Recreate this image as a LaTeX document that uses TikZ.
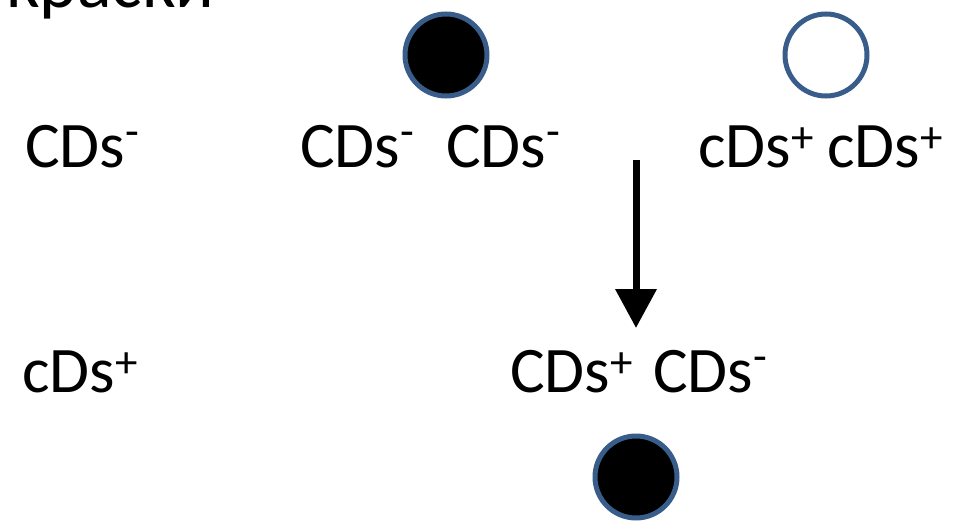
\documentclass[tikz,border=0pt]{standalone}
\usepackage{fontspec}
\setmainfont{Carlito}
\usetikzlibrary{arrows.meta}
\definecolor{ringblue}{RGB}{56,93,138}
\tikzset{
  lbl/.style={anchor=base west, inner sep=0pt, font=\fontsize{65}{78}\selectfont},
  dot/.style={circle, draw=ringblue, line width=5pt, minimum size=82pt, inner sep=0pt},
  full/.style={dot, fill=black},
  hollow/.style={dot, fill=white},
  flow/.style={line width=7pt, -{Triangle[length=39pt,width=40pt]}}
}
% charge marks set small and raised after the gene symbols
\newcommand{\chgneg}{\raisebox{21pt}{\fontsize{45}{45}\selectfont -}}
\newcommand{\chgpos}{\raisebox{15pt}{\fontsize{45}{45}\selectfont +}}
\begin{document}
\begin{tikzpicture}[x=1pt,y=-1pt]
  \useasboundingbox (0,0) rectangle (967,522);
  \begin{scope}
    \clip (0,0) rectangle (967,522);
    \node[lbl, font=\fontsize{72}{86}\selectfont] (title) at (6,7) {краски};
  \end{scope}
  % circles
  \node[full]   (c1) at (446,55) {};
  \node[hollow] (c2) at (826,55) {};
  \node[full]   (c3) at (636,477) {};
  % first row of labels
  \node[lbl] (a1) at (25,167)  {CDs\chgneg};
  \node[lbl] (a2) at (300,167) {CDs\chgneg};
  \node[lbl] (a3) at (446,167) {CDs\chgneg};
  \node[lbl] (a4) at (698,167) {cDs\chgpos};
  \node[lbl] (a5) at (827,167) {cDs\chgpos};
  % second row of labels
  \node[lbl] (b1) at (22,392)  {cDs\chgpos};
  \node[lbl] (b2) at (510,392) {CDs\chgpos};
  \node[lbl] (b3) at (653,392) {CDs\chgneg};
  % arrow
  \coordinate (from) at (636,160);
  \coordinate (to) at (636,328);
  \draw[flow] (from) -- (to);
\end{tikzpicture}
\end{document}
